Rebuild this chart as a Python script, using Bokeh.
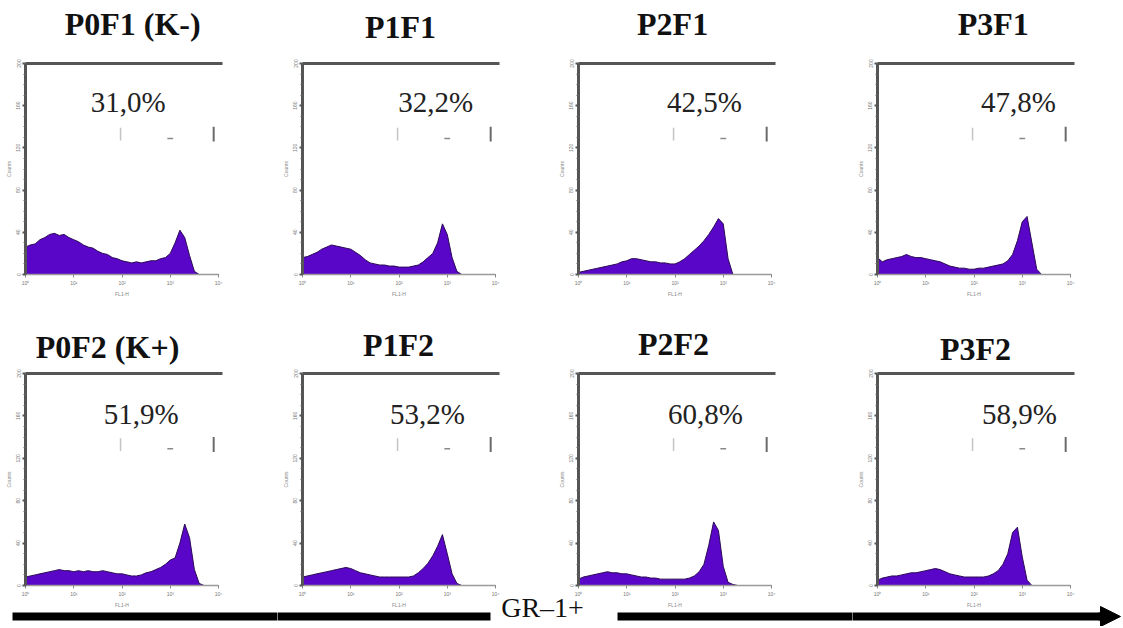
from bokeh.plotting import figure
from bokeh.layouts import column, row
from bokeh.models import LinearAxis, FixedTicker, Range1d, Label, Arrow, NormalHead
from bokeh.embed import file_html
from bokeh.resources import INLINE

# ---------------- data ----------------
fl1_log = [0.0, 0.1, 0.2, 0.3, 0.4, 0.5, 0.6, 0.7, 0.8, 0.9,
           1.0, 1.1, 1.2, 1.3, 1.4, 1.5, 1.6, 1.7, 1.8, 1.9,
           2.0, 2.1, 2.2, 2.3, 2.4, 2.5, 2.6, 2.7, 2.8, 2.9,
           3.0, 3.1, 3.2, 3.3, 3.4, 3.5, 3.6, 3.7, 3.8, 3.9, 4.0]

panel_names = ["P0F1 (K-)", "P1F1", "P2F1", "P3F1",
               "P0F2 (K+)", "P1F2", "P2F2", "P3F2"]
gr1_percent = ["31,0%", "32,2%", "42,5%", "47,8%",
               "51,9%", "53,2%", "60,8%", "58,9%"]

counts_p0f1 = [26, 28, 29, 33, 35, 38, 39, 37, 38, 35, 33, 31, 28, 26, 25, 22, 20, 19, 16, 15,
               13, 12, 11, 12, 11, 12, 13, 13, 15, 16, 20, 30, 42, 35, 18, 3, 0, 0, 0, 0, 0]
counts_p1f1 = [16, 17, 19, 21, 24, 26, 28, 27, 26, 25, 24, 21, 18, 14, 11, 10, 9, 9, 8, 8,
               7, 7, 7, 8, 9, 12, 16, 20, 30, 48, 38, 16, 3, 0, 0, 0, 0, 0, 0, 0, 0]
counts_p2f1 = [2, 3, 4, 5, 6, 7, 8, 9, 10, 12, 13, 15, 15, 14, 13, 12, 12, 11, 11, 10,
               10, 12, 15, 19, 23, 27, 32, 38, 45, 53, 48, 15, 0, 0, 0, 0, 0, 0, 0, 0, 0]
counts_p3f1 = [16, 12, 14, 15, 16, 17, 19, 17, 16, 16, 15, 14, 13, 12, 10, 8, 7, 6, 6, 5,
               5, 6, 6, 7, 8, 9, 10, 13, 19, 32, 50, 55, 30, 5, 0, 0, 0, 0, 0, 0, 0]
counts_p0f2 = [8, 9, 10, 11, 12, 13, 14, 15, 14, 14, 13, 14, 13, 14, 13, 13, 14, 13, 12, 11,
               11, 10, 9, 9, 10, 12, 13, 15, 17, 20, 24, 26, 40, 58, 45, 15, 2, 0, 0, 0, 0]
counts_p1f2 = [8, 9, 10, 11, 12, 13, 14, 15, 16, 17, 16, 14, 12, 11, 10, 9, 8, 8, 8, 8,
               8, 8, 8, 9, 12, 16, 21, 28, 37, 48, 30, 11, 2, 0, 0, 0, 0, 0, 0, 0, 0]
counts_p2f2 = [6, 8, 9, 10, 11, 12, 13, 12, 12, 11, 11, 10, 9, 8, 8, 7, 7, 6, 6, 6,
               6, 6, 6, 7, 9, 13, 20, 38, 60, 52, 18, 3, 1, 0, 0, 0, 0, 0, 0, 0, 0]
counts_p3f2 = [5, 7, 8, 9, 9, 10, 11, 12, 12, 13, 14, 15, 16, 15, 13, 11, 10, 9, 8, 8,
               8, 8, 8, 9, 11, 14, 20, 30, 50, 55, 27, 5, 0, 0, 0, 0, 0, 0, 0, 0, 0]
all_counts = [counts_p0f1, counts_p1f1, counts_p2f1, counts_p3f1,
              counts_p0f2, counts_p1f2, counts_p2f2, counts_p3f2]

count_ticks = [0, 40, 80, 120, 160, 200]
count_minor = [10, 20, 30, 50, 60, 70, 90, 100, 110, 130, 140, 150, 170, 180, 190]
decade_ticks = [0, 1, 2, 3, 4]
decade_labels = ["10\u2070", "10\u00b9", "10\u00b2", "10\u00b3", "10\u2074"]
gate_lo, gate_mid, gate_hi, gate_level = 1.97, 3.0, 3.9, 133
axis_title = "GR\u20131+"

# ---------------- layout (page pixels) ----------------
COL_CANVAS_LEFT = [0, 277, 500, 852]
COL_W = [277, 223, 352, 270]
COL_FRAME_LEFT = [25, 302, 578, 877]
PX_PER_DEC = 48.25
ROW_TOP = [0, 308]
ROW_H = [308, 318]
ROW_ZERO = [274, 585]
PX_PER_COUNT = [1.055, 1.06]

title_x = [2.22, 2.03, 1.95, 2.40, 1.70, 1.99, 1.97, 2.03]
title_y = [237.0, 235.0, 237.0, 237.0, 224.6, 226.5, 228.3, 222.7]
pct_x = [2.13, 2.76, 2.61, 2.92, 2.40, 2.59, 2.63, 2.94]
pct_y = [163.5, 161.5]

PURPLE = "#5a06c8"
SERIF = "Liberation Serif"


def px_to_x(c, px):
    return (px - COL_FRAME_LEFT[c]) / PX_PER_DEC


def py_to_y(r, py):
    return -(py - ROW_ZERO[r]) / PX_PER_COUNT[r]


def make_panel(i):
    r, c = divmod(i, 4)
    x0 = px_to_x(c, COL_CANVAS_LEFT[c])
    x1 = px_to_x(c, COL_CANVAS_LEFT[c] + COL_W[c])
    y0 = py_to_y(r, ROW_TOP[r] + ROW_H[r])
    y1 = py_to_y(r, ROW_TOP[r])
    p = figure(width=COL_W[c], height=ROW_H[r],
               x_range=Range1d(x0, x1), y_range=Range1d(y0, y1),
               x_axis_location=None, y_axis_location=None,
               toolbar_location=None, output_backend="svg",
               min_border=0, outline_line_color=None,
               background_fill_color="white", border_fill_color="white")
    p.grid.visible = False

    # histogram
    p.varea(x=fl1_log, y1=0, y2=all_counts[i], fill_color=PURPLE)
    p.line(x=fl1_log, y=all_counts[i], line_color="#2a0a55", line_width=1)

    # axes
    yax = LinearAxis(fixed_location=0, bounds=(0, 200),
                     ticker=FixedTicker(ticks=count_ticks, minor_ticks=count_minor),
                     axis_line_color="#555555", axis_line_width=3,
                     major_tick_line_color="#555555", major_tick_line_width=2,
                     major_tick_out=3, major_tick_in=0,
                     minor_tick_line_color="#666666", minor_tick_out=2, minor_tick_in=0,
                     major_label_text_font_size="5px", major_label_text_color="#777777",
                     major_label_orientation="vertical", major_label_standoff=2,
                     axis_label="Counts", axis_label_text_font_size="5px",
                     axis_label_text_color="#888888", axis_label_standoff=2,
                     axis_label_text_font_style="normal")
    p.add_layout(yax, "left")
    xax = LinearAxis(fixed_location=0, bounds=(0, 4),
                     ticker=FixedTicker(ticks=decade_ticks),
                     major_label_overrides=dict(zip(decade_ticks, decade_labels)),
                     axis_line_color="#9a9a9a", axis_line_width=1.5,
                     major_tick_line_color="#888888", major_tick_out=3, major_tick_in=0,
                     minor_tick_line_color=None,
                     major_label_text_font_size="5px", major_label_text_color="#777777",
                     major_label_standoff=2,
                     axis_label="FL1-H", axis_label_text_font_size="5px",
                     axis_label_text_color="#888888", axis_label_standoff=2,
                     axis_label_text_font_style="normal")
    p.add_layout(xax, "below")
    tax = LinearAxis(fixed_location=200, bounds=(0, 4.08),
                     ticker=FixedTicker(ticks=[]), minor_tick_line_color=None,
                     major_tick_line_color=None,
                     axis_line_color="#555555", axis_line_width=3)
    p.add_layout(tax, "above")

    # M1 gate marker
    p.segment(x0=[gate_lo], y0=[gate_level - 6], x1=[gate_lo], y1=[gate_level + 6],
              line_color="#c4c4c4", line_width=1.5)
    p.segment(x0=[gate_hi], y0=[gate_level - 7], x1=[gate_hi], y1=[gate_level + 7],
              line_color="#6a6a6a", line_width=2)
    p.segment(x0=[gate_mid - 0.06], y0=[gate_level - 4], x1=[gate_mid + 0.06], y1=[gate_level - 4],
              line_color="#8a8a8a", line_width=1.5)

    # texts
    p.add_layout(Label(x=title_x[i], y=title_y[i], text=panel_names[i],
                       text_font=SERIF, text_font_style="bold", text_font_size="32px",
                       text_color="#111111", text_align="center", text_baseline="alphabetic"))
    p.add_layout(Label(x=pct_x[i], y=pct_y[r], text=gr1_percent[i],
                       text_font=SERIF, text_font_size="29px",
                       text_color="#222222", text_align="center", text_baseline="alphabetic"))

    # bottom arrow (row 2 only)
    if r == 1:
        ya = py_to_y(r, 616)
        p.segment(x0=[px_to_x(c, 12), px_to_x(c, 617)], y0=[ya, ya],
                  x1=[px_to_x(c, 490), px_to_x(c, 1104)], y1=[ya, ya],
                  line_color="black", line_width=8)
        if c == 2:
            p.add_layout(Label(x=px_to_x(c, 542), y=py_to_y(r, 607), text=axis_title,
                               text_font=SERIF, text_font_size="28px",
                               text_color="#111111", text_align="center",
                               text_baseline="alphabetic"))
        if c == 3:
            p.add_layout(Arrow(x_start=px_to_x(c, 1098), y_start=ya,
                               x_end=px_to_x(c, 1120), y_end=ya, line_width=8,
                               line_color="black",
                               end=NormalHead(size=20, fill_color="black", line_color="black")))
    return p


panels = [make_panel(i) for i in range(8)]
layout = column(row(*panels[:4], spacing=0), row(*panels[4:], spacing=0), spacing=0)

open("out.html", "w").write(file_html(layout, INLINE))
